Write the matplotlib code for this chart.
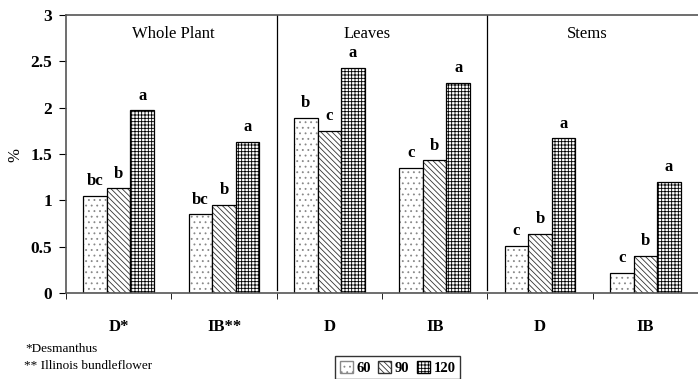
import numpy as np
import matplotlib.pyplot as plt
from matplotlib.patches import Patch

plt.rcParams['font.family'] = ['Liberation Serif', 'DejaVu Serif']
plt.rcParams['hatch.linewidth'] = 0.6

# data
groups = ["D*", "IB**", "D", "IB", "D", "IB"]
sections = ["Whole Plant", "Leaves", "Stems"]
days = ["60", "90", "120"]
v60 = [1.05, 0.85, 1.89, 1.35, 0.51, 0.22]
v90 = [1.13, 0.95, 1.75, 1.43, 0.64, 0.40]
v120 = [1.97, 1.63, 2.43, 2.27, 1.67, 1.20]
l60 = ["bc", "bc", "b", "c", "c", "c"]
l90 = ["b", "b", "c", "b", "b", "b"]
l120 = ["a", "a", "a", "a", "a", "a"]

fig = plt.figure(figsize=(6.98, 3.79), dpi=100)
ax = fig.add_axes([0.0946, 0.2269, 0.9054, 0.7335])

x = np.arange(len(groups))
w = 0.224
hatches = ["...", "\\\\\\\\\\\\", "+++++"]
hcolors = ["#888888", "#333333", "black"]
series = [v60, v90, v120]
letters = [l60, l90, l120]
for i, (vals, lab) in enumerate(zip(series, letters)):
    pos = x + (i - 1) * w
    # pattern first, then black outline on top
    ax.bar(pos, vals, w, facecolor="white", edgecolor=hcolors[i],
           hatch=hatches[i], linewidth=0)
    ax.bar(pos, vals, w, fill=False, edgecolor="black", linewidth=0.9)
    for px, v, t in zip(pos, vals, lab):
        ax.text(px, v + 0.07, t, ha="center", va="bottom", fontsize=12,
                fontweight="bold")

ax.set_xlim(-0.5, 5.5)
ax.set_ylim(0, 3)
ax.set_yticks(np.arange(0, 3.01, 0.5))
ax.set_yticklabels(["0", "0.5", "1", "1.5", "2", "2.5", "3"], fontsize=12.5,
                   fontweight="bold")
ax.set_xticks(x)
ax.set_xticklabels(groups, fontsize=12, fontweight="bold")
ax.tick_params(axis="x", length=0, pad=19)
ax.set_xticks(np.arange(-0.5, 5.6, 1), minor=True)
ax.tick_params(axis="x", which="minor", length=4, direction="out")
ax.tick_params(axis="y", length=5, direction="out", pad=5)

ax.spines["right"].set_visible(False)
for s in ["top", "left", "bottom"]:
    ax.spines[s].set_color("#555555")
    ax.spines[s].set_linewidth(1.2)

for sx in [1.5, 3.5]:
    ax.plot([sx, sx], [0.03, 3], color="black", linewidth=0.9)

for t, sx in zip(sections, [0.52, 2.36, 4.45]):
    ax.text(sx, 2.79, t, ha="center", va="center", fontsize=12)

fig.text(0.022, 0.59, "%", fontsize=12, rotation=90, ha="center", va="center")

fig.text(0.037, 0.079, "*Desmanthus", fontsize=9.5, va="center")
fig.text(0.035, 0.034, "** Illinois bundleflower", fontsize=9.5, va="center")

handles = [Patch(facecolor="white", edgecolor=c, hatch=h, label=d)
           for h, c, d in zip(hatches, hcolors, days)]
fig.legend(handles=handles, loc="lower left", bbox_to_anchor=(0.470, -0.02),
           ncol=3, frameon=True, fancybox=False, edgecolor="black",
           prop={"weight": "bold", "size": 10.5}, handlelength=0.9,
           handleheight=0.9, handletextpad=0.25, columnspacing=0.5,
           borderpad=0.3)

fig.savefig("out.png", dpi=100)
